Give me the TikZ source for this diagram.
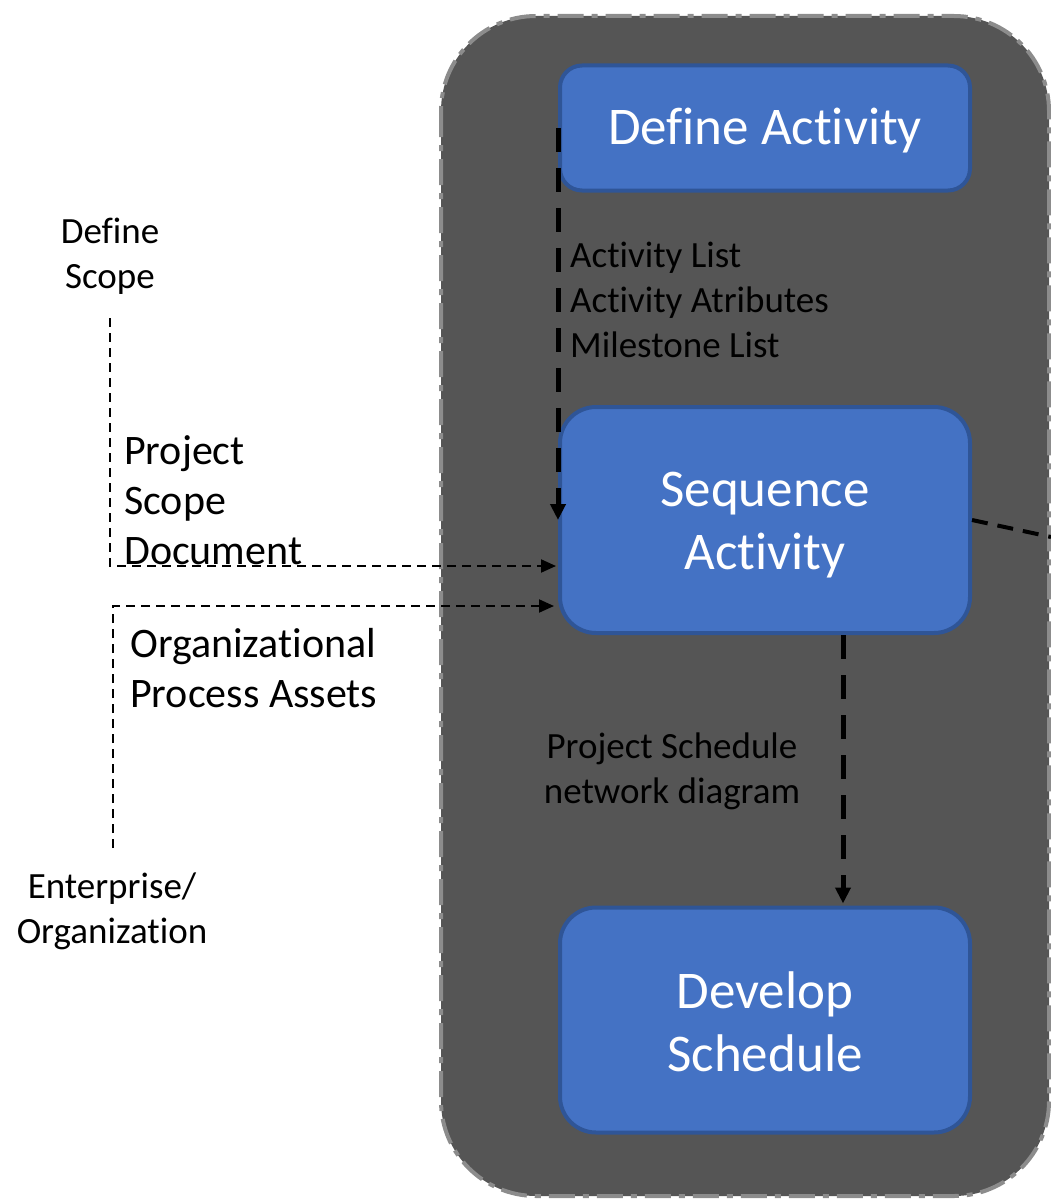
\documentclass[tikz,border=0pt]{standalone}
\usepackage{fontspec}
\setmainfont{Carlito}[Ligatures=NoCommon]
\usetikzlibrary{arrows.meta,calc}
\definecolor{panelfill}{HTML}{555555}
\definecolor{panelrim}{HTML}{8C8C8C}
\definecolor{boxfill}{HTML}{4472C4}
\definecolor{boxrim}{HTML}{2F5597}
\tikzset{
  procbox/.style={draw=boxrim, line width=4pt, fill=boxfill,
    minimum width=410pt, inner sep=0pt},
  boxtext/.style={text=white, align=center, inner sep=0pt,
    font=\fontsize{53}{63}\selectfont},
  midtext/.style={font=\fontsize{42}{50}\selectfont, align=left, inner sep=0pt},
  smalltext/.style={font=\fontsize{37}{45}\selectfont, inner sep=0pt},
  heavyflow/.style={line width=5pt, dash pattern=on 24pt off 16pt,
    -{Triangle[width=15pt,length=16pt]}},
  lightflow/.style={line width=2pt, dash pattern=on 9pt off 6pt,
    -{Triangle[width=13pt,length=15pt]}},
}
\begin{document}
\begin{tikzpicture}[x=1pt,y=-1pt]
\useasboundingbox (0,0) rectangle (1051,1199);
% outer process group
\draw[panelrim, fill=panelfill, line width=4pt, rounded corners=95pt,
      dash pattern=on 26pt off 8pt on 6pt off 8pt]
  (441,16) rectangle (1049,1196);

% process steps
\node[procbox, minimum height=125pt, rounded corners=22pt,
      label={[boxtext, yshift=-3pt]center:Define Activity}] (defact) at (765,128) {};
\node[procbox, minimum height=226pt, rounded corners=36pt,
      label={[boxtext, yshift=-5pt]center:Sequence\\Activity}] (seqact) at (765,520) {};
\node[procbox, minimum height=225pt, rounded corners=36pt,
      label={[boxtext, yshift=-2pt]center:Develop\\Schedule}] (devsch) at (765,1020) {};

% inputs from outside
\node[smalltext, align=center] (scopelbl) at (110,256) {Define\\Scope};
\node[smalltext, align=center] (entlbl) at (112,911) {Enterprise/\\Organization};
\coordinate (scopeend) at (110,318);
\coordinate (entend) at (113,848);
\coordinate (outend) at (1051,537);

% labels on flows
\node[smalltext, align=left, anchor=west] (actlbl) at (570,300) {Activity List\\Activity Atributes\\Milestone List};
\node[midtext, anchor=west] (psdlbl) at (124,500) {Project\\Scope\\Document};
\node[midtext, anchor=west] (opalbl) at (130,668) {Organizational\\Process Assets};
\node[smalltext, align=center] (netlbl) at (672,771) {Project Schedule\\network diagram};

% flows
\draw[lightflow] (scopeend) |- ([xshift=-2pt,yshift=-46pt]seqact.west);
\draw[lightflow] (entend) |- ([xshift=-4pt,yshift=-86pt]seqact.west);
\draw[heavyflow] (defact.west) -- (seqact.west);
\draw[heavyflow] ([xshift=78pt]seqact.south) -- ([xshift=78pt,yshift=2pt]devsch.north);
\draw[line width=4pt, dash pattern=on 16pt off 10pt] (seqact.east) -- (outend);
\end{tikzpicture}
\end{document}
